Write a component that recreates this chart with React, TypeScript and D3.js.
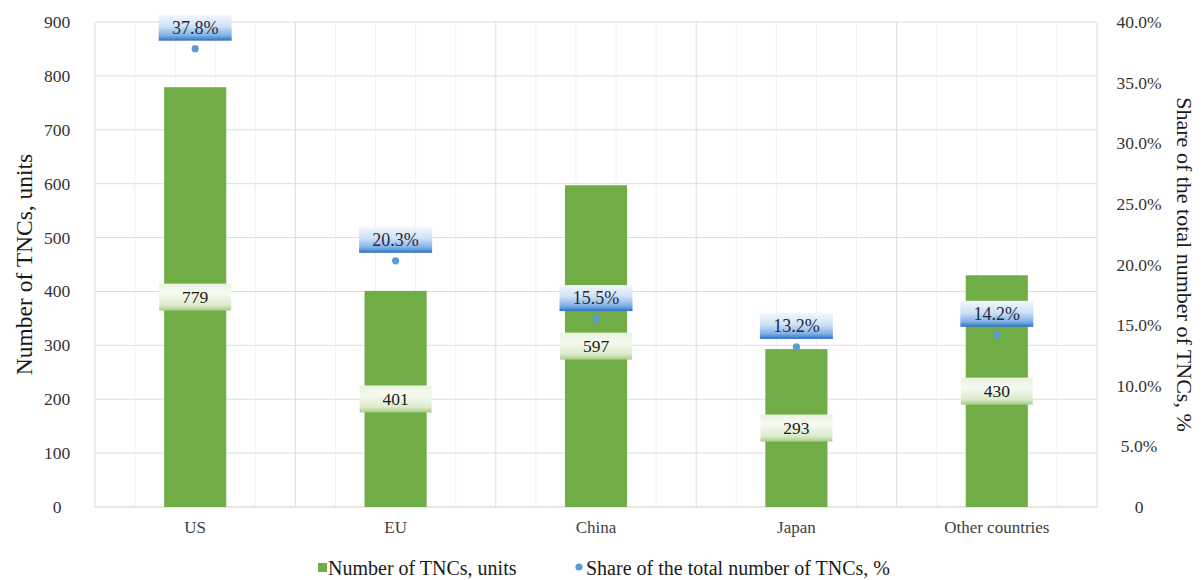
import React from "react";
import * as d3 from "d3";

// Transnational corporations by home economy
const categories = ["US", "EU", "China", "Japan", "Other countries"];
const tncCounts = [779, 401, 597, 293, 430];
const tncShares = [37.8, 20.3, 15.5, 13.2, 14.2];
const leftTicks = [0, 100, 200, 300, 400, 500, 600, 700, 800, 900];
const rightTicks = [0, 5, 10, 15, 20, 25, 30, 35, 40];
const legendLabels = ["Number of TNCs, units", "Share of the total number of TNCs, %"];
const leftTitle = "Number of TNCs, units";
const rightTitle = "Share of the total number of TNCs, %";

const W = 1204;
const H = 580;
const M = { left: 95, right: 1097, top: 22, bottom: 507 };
const FONT = "'Liberation Serif', 'Times New Roman', serif";
const GREEN = "#70ad47";
const BLUE = "#5b9bd5";

export default function App() {
  const x = d3.scaleBand<string>().domain(categories).range([M.left, M.right]).paddingInner(0).paddingOuter(0);
  const bw = x.bandwidth() * 0.31;
  const yL = d3.scaleLinear().domain([0, 900]).range([M.bottom, M.top]);
  const yR = d3.scaleLinear().domain([0, 40]).range([M.bottom, M.top]);

  // vertical gridlines: major at band edges, faint minor ones in between
  const majorV = categories.map((c) => x(c)!).concat([M.right]);
  const minorV: number[] = [];
  categories.forEach((c) => {
    for (let k = 1; k < 5; k++) minorV.push(x(c)! + (x.bandwidth() * k) / 5);
  });

  const fmtR = (v: number) => (v === 0 ? "0" : `${v.toFixed(1)}%`);

  return (
    <svg width={W} height={H} style={{ display: "block", position: "absolute", left: 0, top: 0 }}>
      <defs>
        <linearGradient id="blueLbl" x1="0" y1="0" x2="0" y2="1">
          <stop offset="0%" stopColor="#f3f8fd" />
          <stop offset="45%" stopColor="#cfe1f5" />
          <stop offset="80%" stopColor="#7fb0e6" />
          <stop offset="100%" stopColor="#2f70c2" />
        </linearGradient>
        <linearGradient id="greenLbl" x1="0" y1="0" x2="0" y2="1">
          <stop offset="0%" stopColor="#e9f2df" />
          <stop offset="35%" stopColor="#f6faf1" />
          <stop offset="80%" stopColor="#dcebcb" />
          <stop offset="100%" stopColor="#a8cd86" />
        </linearGradient>
      </defs>
      <rect x={0} y={0} width={W} height={H} fill="#ffffff" />

      {minorV.map((v, i) => (
        <line key={`mv${i}`} x1={v} x2={v} y1={M.top} y2={M.bottom} stroke="#f2f2f2" strokeWidth={1} />
      ))}
      {majorV.map((v, i) => (
        <line key={`v${i}`} x1={v} x2={v} y1={M.top} y2={M.bottom} stroke="#dedede" strokeWidth={1} />
      ))}
      {leftTicks.map((t) => (
        <line key={`h${t}`} x1={M.left} x2={M.right} y1={yL(t)} y2={yL(t)} stroke={t === 0 ? "#cfcfcf" : "#dedede"} strokeWidth={1} />
      ))}

      {/* bars */}
      {categories.map((c, i) => (
        <rect
          key={`b${c}`}
          x={x(c)! + x.bandwidth() / 2 - bw / 2}
          y={yL(tncCounts[i])}
          width={bw}
          height={yL(0) - yL(tncCounts[i])}
          fill={GREEN}
        />
      ))}

      {/* share points */}
      {categories.map((c, i) => (
        <circle key={`p${c}`} cx={x(c)! + x.bandwidth() / 2} cy={yR(tncShares[i])} r={3.6} fill={BLUE} />
      ))}

      {/* count labels, centered in bars */}
      {categories.map((c, i) => {
        const cx = x(c)! + x.bandwidth() / 2;
        const cy = (yL(tncCounts[i]) + yL(0)) / 2;
        return (
          <g key={`gl${c}`}>
            <rect x={cx - 36} y={cy - 13.5} width={72} height={27} fill="url(#greenLbl)" />
            <text x={cx} y={cy} textAnchor="middle" dominantBaseline="central" fontFamily={FONT} fontSize={17.5} fill="#1a1a1a">
              {tncCounts[i]}
            </text>
          </g>
        );
      })}

      {/* share labels, above points */}
      {categories.map((c, i) => {
        const cx = x(c)! + x.bandwidth() / 2;
        const bottom = yR(tncShares[i]) - 8;
        return (
          <g key={`bl${c}`}>
            <rect x={cx - 36.5} y={bottom - 26} width={73} height={26} fill="url(#blueLbl)" />
            <text x={cx} y={bottom - 13} textAnchor="middle" dominantBaseline="central" fontFamily={FONT} fontSize={18} fill="#1f2a44">
              {`${tncShares[i].toFixed(1)}%`}
            </text>
          </g>
        );
      })}

      {/* left axis ticks */}
      {leftTicks.map((t) => (
        <text key={`lt${t}`} x={57} y={yL(t)} textAnchor="middle" dominantBaseline="central" fontFamily={FONT} fontSize={17.5} fill="#333333">
          {t}
        </text>
      ))}
      {/* right axis ticks */}
      {rightTicks.map((t) => (
        <text key={`rt${t}`} x={1139} y={yR(t)} textAnchor="middle" dominantBaseline="central" fontFamily={FONT} fontSize={17.5} fill="#333333">
          {fmtR(t)}
        </text>
      ))}
      {/* category labels */}
      {categories.map((c) => (
        <text key={`xl${c}`} x={x(c)! + x.bandwidth() / 2} y={527} textAnchor="middle" dominantBaseline="central" fontFamily={FONT} fontSize={17} fill="#404040">
          {c}
        </text>
      ))}

      {/* axis titles */}
      <text transform={`translate(24,${(M.top + M.bottom) / 2}) rotate(-90)`} textAnchor="middle" dominantBaseline="central" fontFamily={FONT} fontSize={23.5} fill="#1a1a1a">
        {leftTitle}
      </text>
      <text transform={`translate(1184,${(M.top + M.bottom) / 2}) rotate(90)`} textAnchor="middle" dominantBaseline="central" fontFamily={FONT} fontSize={22} fill="#1a1a1a">
        {rightTitle}
      </text>

      {/* legend */}
      <rect x={318} y={563} width={9} height={9} fill={GREEN} />
      <text x={328} y={568} dominantBaseline="central" fontFamily={FONT} fontSize={20} fill="#1a1a1a">
        {legendLabels[0]}
      </text>
      <circle cx={579} cy={567} r={3.6} fill={BLUE} />
      <text x={586} y={568} dominantBaseline="central" fontFamily={FONT} fontSize={20} fill="#1a1a1a">
        {legendLabels[1]}
      </text>
    </svg>
  );
}
